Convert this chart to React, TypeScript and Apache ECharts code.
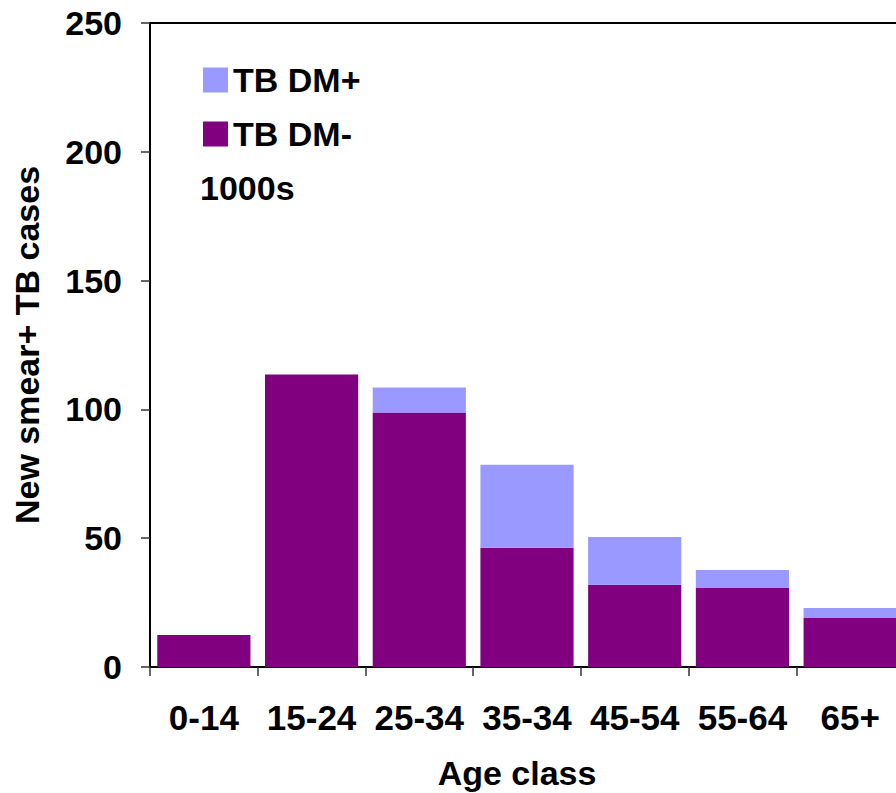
import React, { useEffect, useRef } from "react";
import * as echarts from "echarts";

const categories = ["0-14", "15-24", "25-34", "35-34", "45-54", "55-64", "65+"];
const dmNegative = [12.4, 113.5, 98.8, 46.3, 31.9, 30.7, 19.0];
const dmPositive = [0, 0, 9.7, 32.2, 18.6, 7.0, 3.9];
const yTicks = { min: 0, max: 250, interval: 50 };

const FONT = "'Liberation Sans', Arial, sans-serif";

export default function App() {
  const ref = useRef<HTMLDivElement>(null);
  useEffect(() => {
    document.body.style.margin = "0";
    const chart = echarts.init(ref.current!, null, { renderer: "svg" });
    chart.setOption({
      animation: false,
      backgroundColor: "#ffffff",
      textStyle: { fontFamily: FONT, fontWeight: "bold", color: "#000" },
      grid: {
        left: 150,
        top: 23,
        width: 754,
        height: 644,
        show: true,
        borderColor: "#000",
        borderWidth: 2,
        containLabel: false,
        outerBoundsMode: "none",
      },
      legend: {
        orient: "vertical",
        left: 203,
        top: 63,
        padding: 0,
        itemWidth: 25,
        itemHeight: 25,
        itemGap: 20,
        icon: "rect",
        data: ["TB DM+", "TB DM-"],
        textStyle: { fontFamily: FONT, fontWeight: "bold", fontSize: 34, color: "#000" },
      },
      graphic: [
        {
          type: "text",
          left: 200,
          top: 171,
          style: { text: "1000s", font: `bold 34px ${FONT}`, fill: "#000" },
        },
      ],
      xAxis: {
        type: "category",
        data: categories,
        name: "Age class",
        nameLocation: "middle",
        nameGap: 89,
        nameTextStyle: { fontFamily: FONT, fontWeight: "bold", fontSize: 34, color: "#000", padding: [0, 20, 0, 0] },
        axisLine: { lineStyle: { color: "#000", width: 2 } },
        axisTick: { show: true, length: 9, lineStyle: { color: "#333", width: 1.5 } },
        axisLabel: { interval: 0, fontFamily: FONT, fontWeight: "bold", fontSize: 35, color: "#000", margin: 33 },
      },
      yAxis: {
        type: "value",
        min: yTicks.min,
        max: yTicks.max,
        interval: yTicks.interval,
        name: "New smear+ TB cases",
        nameLocation: "middle",
        nameGap: 106,
        nameTextStyle: { fontFamily: FONT, fontWeight: "bold", fontSize: 34, color: "#000" },
        splitLine: { show: false },
        axisLine: { show: true, lineStyle: { color: "#000", width: 2 } },
        axisTick: { show: true, length: 9, lineStyle: { color: "#333", width: 1.5 } },
        axisLabel: { fontFamily: FONT, fontWeight: "bold", fontSize: 34, color: "#000", margin: 28 },
      },
      series: [
        {
          name: "TB DM-",
          type: "bar",
          stack: "total",
          data: dmNegative,
          barCategoryGap: "13.5%",
          itemStyle: { color: "#800080" },
        },
        {
          name: "TB DM+",
          type: "bar",
          stack: "total",
          data: dmPositive,
          barCategoryGap: "13.5%",
          itemStyle: { color: "#9999FF" },
        },
      ],
    });
    return () => chart.dispose();
  }, []);
  return (
    <div
      ref={ref}
      style={{ position: "absolute", left: 0, top: 0, width: 896, height: 793, overflow: "hidden" }}
    />
  );
}
